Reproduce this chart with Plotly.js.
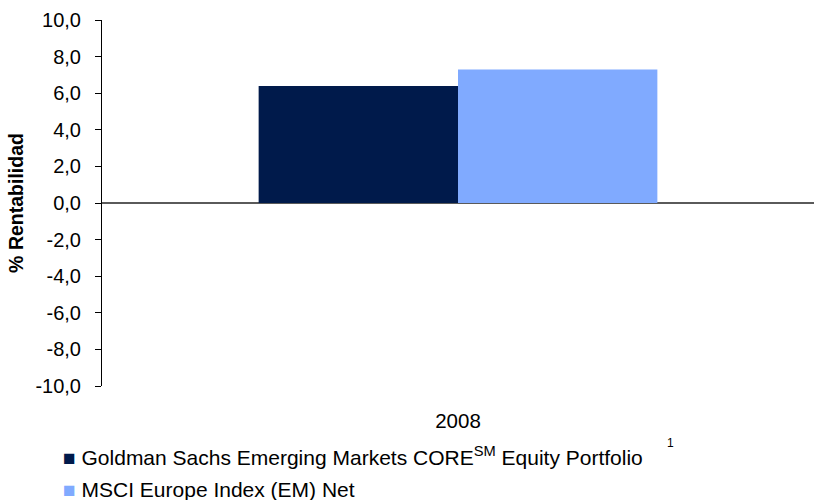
<!DOCTYPE html>
<html><head><meta charset="utf-8">
<script src="https://cdn.plot.ly/plotly-3.0.1.min.js"></script>
<style>body{margin:0}#c{width:814px;height:500px}</style>
</head><body><div id="c"></div>
<script>
var categories = ['2008'];
var seriesNames = ['Goldman Sachs Emerging Markets CORE<sup>SM</sup> Equity Portfolio', 'MSCI Europe Index (EM) Net'];
var fundValues = [6.4];
var indexValues = [7.3];
var seriesColors = ['#001A4B', '#80AAFF'];
var tickValues = [-10, -8, -6, -4, -2, 0, 2, 4, 6, 8, 10];
var tickLabels = ['-10,0', '-8,0', '-6,0', '-4,0', '-2,0', '0,0', '2,0', '4,0', '6,0', '8,0', '10,0'];
var footnote = '1';

var traces = [
  {type:'bar', x:categories, y:fundValues, name:seriesNames[0], marker:{color:seriesColors[0]}, showlegend:false},
  {type:'bar', x:categories, y:indexValues, name:seriesNames[1], marker:{color:seriesColors[1]}, showlegend:false}
];
var font = 'Liberation Sans, Arial, sans-serif';
var legendY = [-0.191, -0.284];
var annotations = seriesNames.map(function(n, i){
  return {xref:'paper', yref:'paper', x:-0.0576, y:legendY[i], xanchor:'left', yanchor:'middle', showarrow:false,
    text:'<span style="color:'+seriesColors[i]+'">■</span> '+n, font:{size:21, family:font, color:'#000'}};
});
annotations.push({xref:'paper', yref:'paper', x:0.798, y:-0.156, text:footnote, showarrow:false, font:{size:12, family:font}, xanchor:'center', yanchor:'middle'});

var layout = {
  width:814, height:500,
  margin:{l:102, r:0, t:20, b:114, autoexpand:false},
  paper_bgcolor:'#fff', plot_bgcolor:'#fff',
  font:{family:font, size:20, color:'#000'},
  barmode:'group', bargap:0.44, bargroupgap:0,
  showlegend:false,
  xaxis:{showline:false, ticks:'', showgrid:false, zeroline:false, tickfont:{size:20.5}, ticklabelstandoff:20, automargin:false},
  yaxis:{range:[-10,10], tickmode:'array', tickvals:tickValues, ticktext:tickLabels, showline:true, linecolor:'#000', linewidth:1,
         ticks:'outside', ticklen:6, tickcolor:'#000', showgrid:false, zeroline:true, zerolinecolor:'#5a5a5a', zerolinewidth:1.5,
         tickfont:{size:20}, ticklabelstandoff:10, automargin:false,
         title:{text:'<b>% Rentabilidad</b>', font:{size:19.5}, standoff:6}},
  annotations:annotations
};
Plotly.newPlot('c', traces, layout, {displayModeBar:false, staticPlot:true});
</script></body></html>
